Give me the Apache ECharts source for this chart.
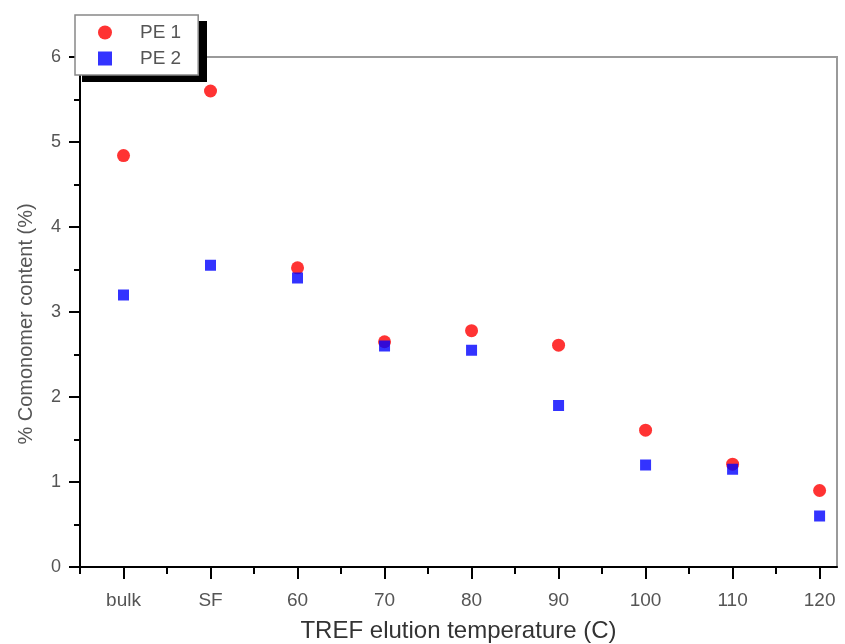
<!DOCTYPE html>
<html>
<head>
<meta charset="utf-8">
<script src="https://cdn.jsdelivr.net/npm/echarts@6/dist/echarts.min.js"></script>
<style>html,body{margin:0;padding:0;background:#fff;}#c{width:845px;height:644px;}</style>
</head>
<body>
<div id="c"></div>
<script>
var categories = ['bulk', 'SF', '60', '70', '80', '90', '100', '110', '120'];
var pe1 = [4.84, 5.6, 3.52, 2.65, 2.78, 2.61, 1.61, 1.21, 0.9];
var pe2 = [3.2, 3.55, 3.4, 2.6, 2.55, 1.9, 1.2, 1.15, 0.6];
var yTicks = [0, 1, 2, 3, 4, 5, 6];

var majorPos = categories.map(function (c, i) { return i; });
var minorPos = [-0.5].concat(categories.slice(0, -1).map(function (c, i) { return i + 0.5; }));

var chart = echarts.init(document.getElementById('c'), null, {renderer: 'canvas'});
var font = 'Liberation Sans, Arial, sans-serif';
chart.setOption({
  animation: false,
  backgroundColor: '#fff',
  grid: {left: 80, right: 8, top: 57, bottom: 77, show: true, borderColor: '#9a9a9a', borderWidth: 2,
    backgroundColor: 'transparent', outerBoundsMode: 'none', containLabel: false},
  graphic: [{
    type: 'rect', left: 82, top: 21, z: 3,
    shape: {width: 125, height: 61},
    style: {fill: '#000'}
  }],
  legend: {
    orient: 'vertical', left: 75, top: 15, z: 5,
    itemWidth: 14, itemHeight: 14, itemGap: 7,
    padding: [8, 17, 7, 23],
    backgroundColor: '#fff', borderColor: '#888', borderWidth: 1.5,
    textStyle: {fontFamily: font, fontSize: 19, lineHeight: 16, color: '#555', padding: [0, 0, 0, 23]},
    data: ['PE 1', 'PE 2']
  },
  xAxis: [{
    type: 'value', min: -0.5, max: 8.2,
    axisLine: {show: true, onZero: false, lineStyle: {color: '#000', width: 2}},
    axisTick: {show: true, inside: false, length: 12, customValues: majorPos, lineStyle: {color: '#000', width: 2}},
    axisLabel: {customValues: majorPos, margin: 24, fontFamily: font, fontSize: 19, color: '#555',
      formatter: function (v) { return categories[Math.round(v)]; }},
    splitLine: {show: false},
    name: 'TREF elution temperature (C)', nameLocation: 'middle', nameGap: 52,
    nameTextStyle: {fontFamily: font, fontSize: 24, color: '#333'}
  }, {
    type: 'value', min: -0.5, max: 8.2, position: 'bottom',
    axisLine: {show: false, onZero: false},
    axisTick: {show: true, inside: false, length: 7, customValues: minorPos, lineStyle: {color: '#000', width: 2}},
    axisLabel: {show: false},
    splitLine: {show: false}
  }],
  yAxis: {
    type: 'value', min: 0, max: 6, interval: 1, position: 'left',
    axisLine: {show: true, onZero: false, lineStyle: {color: '#000', width: 2}},
    axisTick: {show: true, inside: false, length: 11, lineStyle: {color: '#000', width: 2}},
    minorTick: {show: true, splitNumber: 2, length: 6, lineStyle: {color: '#000', width: 2}},
    axisLabel: {margin: 19, fontFamily: font, fontSize: 18, color: '#555',
      formatter: function (v) { return yTicks.indexOf(v) >= 0 ? String(v) : ''; }},
    splitLine: {show: false},
    name: '% Comonomer content (%)', nameLocation: 'middle', nameGap: 44,
    nameTextStyle: {fontFamily: font, fontSize: 20, color: '#555', padding: [0, 24, 0, 0]}
  },
  series: [{
    name: 'PE 1', type: 'scatter', symbol: 'circle', symbolSize: 13,
    itemStyle: {color: '#ff0000'},
    data: pe1.map(function (v, i) { return [i, v]; })
  }, {
    name: 'PE 2', type: 'scatter', symbol: 'rect', symbolSize: 11,
    itemStyle: {color: '#0000ff'},
    data: pe2.map(function (v, i) { return [i, v]; })
  }]
});
</script>
</body>
</html>
